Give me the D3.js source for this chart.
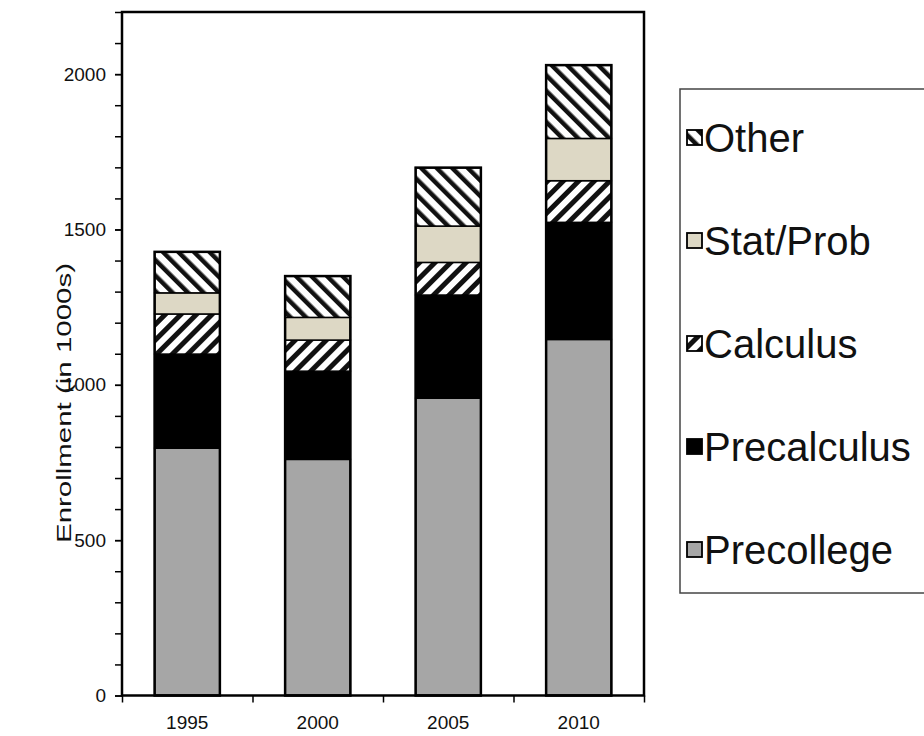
<!DOCTYPE html>
<html>
<head>
<meta charset="utf-8">
<script src="https://cdn.jsdelivr.net/npm/d3@7"></script>
<style>
  body { margin: 0; background: #fff; }
  svg { font-family: "Liberation Sans", Arial, sans-serif; }
</style>
</head>
<body>
<svg id="chart" width="924" height="736"></svg>
<script>
// data (enrollment in 1000s)
const years = ['1995', '2000', '2005', '2010'];
const keys = ['Precollege', 'Precalculus', 'Calculus', 'Stat/Prob', 'Other'];
const precollege = [796, 760, 957, 1146];
const precalculus = [303, 284, 332, 377];
const calculus = [129, 100, 105, 134];
const statprob = [68, 73, 117, 136];
const other = [132, 133, 188, 236];
const yMajorTicks = [0, 500, 1000, 1500, 2000];

const rows = years.map((y, i) => ({
    year: y,
    'Precollege': precollege[i],
    'Precalculus': precalculus[i],
    'Calculus': calculus[i],
    'Stat/Prob': statprob[i],
    'Other': other[i]
}));

const margin = {top: 12, left: 122};
const width = 522, height = 683.5;

const svg = d3.select('#chart');
const defs = svg.append('defs');

// hatch patterns: "\" for Other, "/" for Calculus
function hatch(id, angle, gap, thick) {
    const p = defs.append('pattern')
        .attr('id', id)
        .attr('patternUnits', 'userSpaceOnUse')
        .attr('width', gap)
        .attr('height', gap)
        .attr('patternTransform', `rotate(${angle})`);
    p.append('rect').attr('width', gap).attr('height', gap).attr('fill', '#fff');
    p.append('rect').attr('width', thick).attr('height', gap).attr('fill', '#111');
}
hatch('hOther', -45, 11, 4.5);
hatch('hCalc', 45, 11, 5);

const fills = {
    'Precollege': '#a6a6a6',
    'Precalculus': '#000',
    'Calculus': 'url(#hCalc)',
    'Stat/Prob': '#ddd8c5',
    'Other': 'url(#hOther)'
};

const chart = svg.append('g')
    .attr('transform', `translate(${margin.left}, ${margin.top})`);

const xscale = d3.scaleBand()
    .domain(years)
    .range([0, width])
    .paddingInner(0.5)
    .paddingOuter(0.25);
const yscale = d3.scaleLinear()
    .domain([0, 2200])
    .range([height, 0]);

const series = d3.stack().keys(keys)(rows);

chart.selectAll('g.layer')
    .data(series)
    .join('g')
    .attr('class', 'layer')
    .attr('fill', d => fills[d.key])
    .selectAll('rect')
    .data(d => d)
    .join('rect')
    .attr('x', d => xscale(d.data.year))
    .attr('y', d => yscale(d[1]))
    .attr('width', xscale.bandwidth())
    .attr('height', d => yscale(d[0]) - yscale(d[1]))
    .attr('stroke', '#000')
    .attr('stroke-width', 1.5);

// outline of each whole bar
chart.selectAll('rect.outline')
    .data(series[series.length - 1])
    .join('rect')
    .attr('class', 'outline')
    .attr('x', d => xscale(d.data.year))
    .attr('y', d => yscale(d[1]))
    .attr('width', xscale.bandwidth())
    .attr('height', d => yscale(0) - yscale(d[1]))
    .attr('fill', 'none')
    .attr('stroke', '#000')
    .attr('stroke-width', 2.5);

// plot frame
chart.append('rect')
    .attr('width', width)
    .attr('height', height)
    .attr('fill', 'none')
    .attr('stroke', '#000')
    .attr('stroke-width', 2.5);

// y axis: minor ticks every 100, labels every 500
const yMinor = d3.axisLeft(yscale)
    .tickValues(d3.range(0, 2201, 100))
    .tickSize(7)
    .tickFormat('');
const yMajor = d3.axisLeft(yscale)
    .tickValues(yMajorTicks)
    .tickSize(7)
    .tickPadding(9)
    .tickFormat(d3.format('d'));
chart.append('g').call(yMinor).call(g => g.select('.domain').remove())
    .selectAll('line').attr('stroke-width', 1.5);
chart.append('g').call(yMajor).call(g => g.select('.domain').remove())
    .call(g => g.selectAll('line').attr('stroke-width', 1.5))
    .selectAll('text')
    .style('font-size', '19px')
    .attr('fill', '#111');

// x axis: ticks at category boundaries, labels at centres
const xbound = d3.scaleLinear().domain([0, years.length]).range([0, width]);
chart.append('g')
    .attr('transform', `translate(0, ${height})`)
    .call(d3.axisBottom(xbound).ticks(years.length).tickSize(7).tickFormat(''))
    .call(g => g.select('.domain').remove())
    .selectAll('line').attr('stroke-width', 1.5);
chart.append('g')
    .attr('transform', `translate(0, ${height})`)
    .call(d3.axisBottom(xscale).tickSize(0).tickPadding(20))
    .call(g => g.select('.domain').remove())
    .selectAll('text')
    .style('font-size', '19px')
    .attr('fill', '#111');

// y axis title
svg.append('text')
    .attr('transform', `translate(71, 403) rotate(-90)`)
    .attr('text-anchor', 'middle')
    .style('font-size', '20px')
    .attr('textLength', 280)
    .attr('lengthAdjust', 'spacingAndGlyphs')
    .attr('fill', '#111')
    .text('Enrollment (in 1000s)');

// legend
const legend = svg.append('g');
legend.append('rect')
    .attr('x', 680)
    .attr('y', 89)
    .attr('width', 270)
    .attr('height', 504)
    .attr('fill', '#fff')
    .attr('stroke', '#444')
    .attr('stroke-width', 1.5);
const legendKeys = keys.slice().reverse();
const item = legend.selectAll('g.item')
    .data(legendKeys)
    .join('g')
    .attr('class', 'item')
    .attr('transform', (d, i) => `translate(687, ${138 + i * 103})`);
item.append('rect')
    .attr('x', 0)
    .attr('y', -8)
    .attr('width', 15)
    .attr('height', 15)
    .attr('fill', d => fills[d])
    .attr('stroke', '#000')
    .attr('stroke-width', 1.8);
item.append('text')
    .attr('x', 17)
    .attr('y', 0)
    .attr('dy', '0.36em')
    .style('font-size', '40px')
    .attr('fill', '#111')
    .text(d => d);
</script>
</body>
</html>
